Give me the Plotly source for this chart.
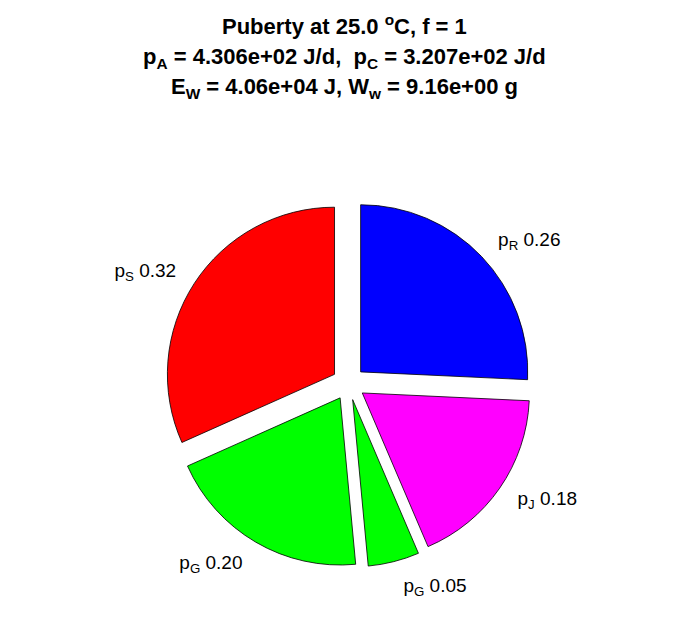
import plotly.graph_objects as go

names = ["p<sub>R</sub>", "p<sub>J</sub>", "p<sub>G</sub>", "p<sub>G</sub>", "p<sub>S</sub>"]
ids = ["pR", "pJ", "pG_a", "pG_b", "pS"]
fractions = [0.26, 0.18, 0.05, 0.20, 0.32]
colors = ["#0000ff", "#ff00ff", "#00ff00", "#00ff00", "#ff0000"]

title_lines = [
    "Puberty at 25.0 <sup>o</sup>C, f = 1",
    "p<sub>A</sub> = 4.306e+02 J/d,  p<sub>C</sub> = 3.207e+02 J/d",
    "E<sub>W</sub> = 4.06e+04 J, W<sub>w</sub> = 9.16e+00 g",
]

labels_text = [f"{n} {v:.2f}" for n, v in zip(names, fractions)]

FONT = "Liberation Sans, Arial, sans-serif"
PIE_X = [0.2043, 0.7743]

fig = go.Figure()
# the pie itself
fig.add_trace(go.Pie(
    labels=ids, values=fractions,
    textinfo="none",
    sort=False, direction="clockwise", rotation=0,
    pull=[0.1] * len(fractions),
    marker=dict(colors=colors, line=dict(color="black", width=0.8)),
    domain=dict(x=PIE_X, y=[0.095, 0.690]),
    showlegend=False, hoverinfo="skip",
))
# transparent companion pie carrying the outside labels further out
fig.add_trace(go.Pie(
    labels=ids, values=fractions, text=labels_text,
    textinfo="text", textposition="outside",
    sort=False, direction="clockwise", rotation=0,
    marker=dict(colors=["rgba(0,0,0,0)"] * len(fractions), line=dict(width=0)),
    textfont=dict(family=FONT, size=19, color="black"),
    domain=dict(x=PIE_X, y=[0.065, 0.720]),
    showlegend=False, hoverinfo="skip",
))

ys = [0.972, 0.919, 0.870]
for line, y in zip(title_lines, ys):
    fig.add_annotation(text=f"<b>{line}</b>", x=0.484, y=y, xref="paper", yref="paper",
                       showarrow=False, xanchor="center", yanchor="middle",
                       font=dict(family=FONT, size=22, color="black"))

fig.update_layout(width=696, height=618, margin=dict(l=0, r=0, t=0, b=0),
                  paper_bgcolor="white", plot_bgcolor="white")
fig.write_html("out.html")
